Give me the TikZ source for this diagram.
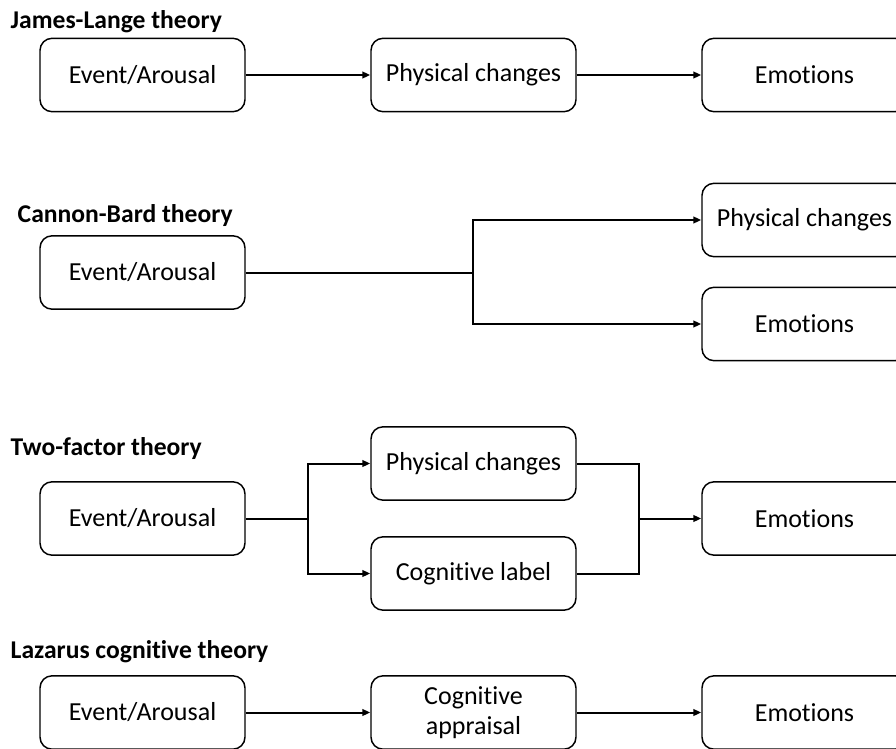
\documentclass[tikz,border=0pt]{standalone}
\usepackage{fontspec}
\setmainfont{Carlito}[Ligatures = NoCommon]
\usetikzlibrary{arrows.meta}

\def \boxSizeX{153.75pt}
\def \boxSizeY{55pt}
\def \colAX{142.5}
\def \colBX{473.5}
\def \colCX{804.5}

\tikzset{
  theorybox/.style = {draw, line width = 1.1pt, rounded corners = 9pt, minimum width = \boxSizeX, minimum height = \boxSizeY, align = center, font = \fontsize{19.5}{22.5}\selectfont},
  theorytitle/.style = {anchor = west, font = \fontsize{19.2}{22}\selectfont\bfseries},
  flux/.style = {line width = 1.5pt, -{Triangle[length = 6pt, width = 5pt]}},
  joint/.style = {line width = 1.5pt}
}

\begin{document}
\begin{tikzpicture}[x = 0.75pt, y = -0.75pt]
\clip (0, 0) rectangle (896, 749);
\useasboundingbox (0, 0) rectangle (896, 749);

% ---- James-Lange theory
\node [theorytitle] (titleJL) at (6, 22) {James-Lange theory};
\node [theorybox] (jlEvent) at (\colAX, 75) {Event/Arousal};
\node [theorybox] (jlPhys) at (\colBX, 75) {Physical changes};
\node [theorybox] (jlEmo) at (\colCX, 75) {Emotions};
\draw [flux] (jlEvent) -- (jlPhys);
\draw [flux] (jlPhys) -- (jlEmo);

% ---- Cannon-Bard theory
\node [theorytitle] (titleCB) at (13, 216) {Cannon-Bard theory};
\node [theorybox] (cbEvent) at (\colAX, 272.5) {Event/Arousal};
\node [theorybox] (cbPhys) at (\colCX, 220) {Physical changes};
\node [theorybox] (cbEmo) at (\colCX, 324) {Emotions};
\coordinate (cbSplit) at (473, 272.5);
\draw [joint] (cbEvent) -- (cbSplit);
\draw [flux] (cbSplit) |- (cbPhys);
\draw [flux] (cbSplit) |- (cbEmo);

% ---- Two-factor theory
\node [theorytitle] (titleTF) at (6, 449) {Two-factor theory};
\node [theorybox] (tfEvent) at (\colAX, 518.5) {Event/Arousal};
\node [theorybox] (tfPhys) at (\colBX, 463.5) {Physical changes};
\node [theorybox] (tfLabel) at (\colBX, 573.5) {Cognitive label};
\node [theorybox] (tfEmo) at (\colCX, 518.5) {Emotions};
\coordinate (tfSplit) at (308, 518.5);
\coordinate (tfMerge) at (639, 518.5);
\draw [joint] (tfEvent) -- (tfSplit);
\draw [flux] (tfSplit) |- (tfPhys);
\draw [flux] (tfSplit) |- (tfLabel);
\draw [joint] (tfPhys) -| (tfMerge);
\draw [joint] (tfLabel) -| (tfMerge);
\draw [flux] (tfMerge) -- (tfEmo);

% ---- Lazarus cognitive theory
\node [theorytitle] (titleLC) at (6, 652) {Lazarus cognitive theory};
\node [theorybox] (lcEvent) at (\colAX, 712.5) {Event/Arousal};
\node [theorybox] (lcApp) at (\colBX, 712.5) {Cognitive\\appraisal};
\node [theorybox] (lcEmo) at (\colCX, 712.5) {Emotions};
\draw [flux] (lcEvent) -- (lcApp);
\draw [flux] (lcApp) -- (lcEmo);
\end{tikzpicture}
\end{document}
